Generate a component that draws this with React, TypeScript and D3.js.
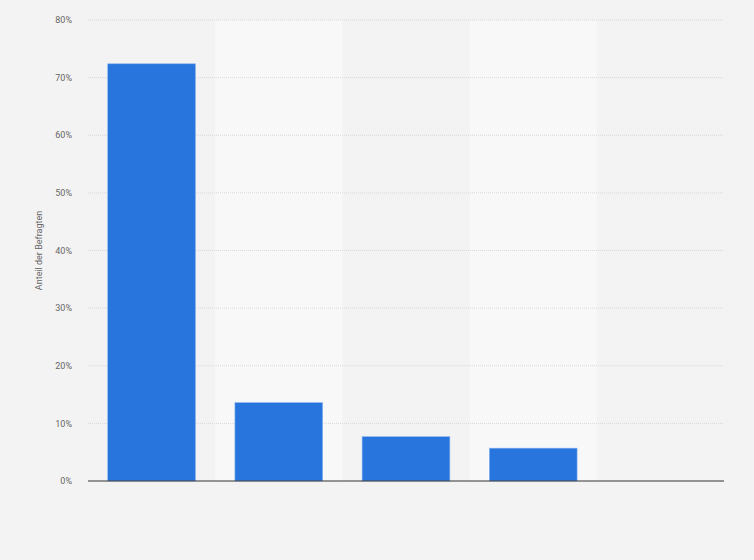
import React from "react";
import * as d3 from "d3";

const categories = ["Kategorie 1", "Kategorie 2", "Kategorie 3", "Kategorie 4", "Kategorie 5"];
const values = [72.4, 13.6, 7.7, 5.7, 0];
const yTicks = [0, 10, 20, 30, 40, 50, 60, 70, 80];
const yTitle = "Anteil der Befragten";

export default function App() {
  const W = 754, H = 560;
  const left = 88, right = 724, top = 20, bottom = 481;
  const x = d3.scaleBand<string>().domain(categories).range([left, right]).paddingInner(0.31).paddingOuter(0.155);
  const band = d3.scaleBand<string>().domain(categories).range([left, right]).padding(0);
  const y = d3.scaleLinear().domain([0, 80]).range([bottom, top]);
  return (
    <div style={{ position: "fixed", left: 0, top: 0 }}>
      <svg width={W} height={H} style={{ display: "block", fontFamily: "Roboto, Arial, sans-serif" }}>
        <rect x={0} y={0} width={W} height={H} fill="#f3f3f3" />
        {categories.map((c, i) =>
          i % 2 === 1 ? (
            <rect key={"b" + c} x={band(c)} y={top} width={band.bandwidth()} height={bottom - top} fill="#f8f8f8" />
          ) : null
        )}
        {yTicks.map((t) => (
          <g key={t}>
            {t > 0 && (
              <line x1={left} x2={right} y1={y(t)} y2={y(t)} stroke="#d8d8d8" strokeWidth={1} strokeDasharray="1,1" />
            )}
            <text x={72} y={y(t)} dy="0.35em" textAnchor="end" fontSize={9} fill="#666">
              {t}%
            </text>
          </g>
        ))}
        {categories.map((c, i) =>
          values[i] > 0 ? (
            <rect
              key={c}
              x={x(c)}
              y={y(values[i])}
              width={x.bandwidth()}
              height={bottom - y(values[i])}
              fill="#2876dd"
              stroke="#8cb6ee"
              strokeWidth={0.6}
            />
          ) : null
        )}
        <line x1={left} x2={right} y1={bottom} y2={bottom} stroke="#333" strokeWidth={1.2} />
        <text
          transform={`translate(42,${(top + bottom) / 2}) rotate(-90)`}
          textAnchor="middle"
          fontSize={9}
          fill="#666"
        >
          {yTitle}
        </text>
      </svg>
    </div>
  );
}
